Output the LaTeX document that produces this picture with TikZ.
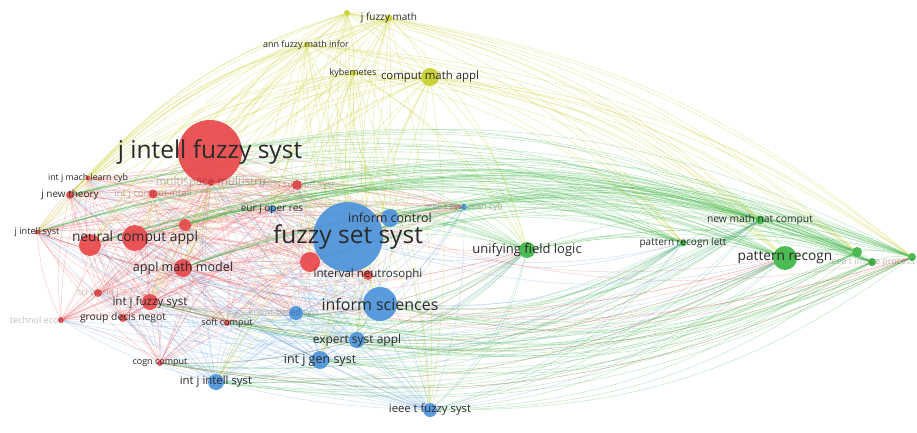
\documentclass[tikz,border=0pt]{standalone}
\usepackage{fontspec}
\setmainfont{Open Sans}
\usetikzlibrary{backgrounds}
\definecolor{clusterRed}{HTML}{E8474A}
\definecolor{clusterBlue}{HTML}{4C93DA}
\definecolor{clusterGreen}{HTML}{3DB544}
\definecolor{clusterYellow}{HTML}{C9CF2C}
\definecolor{labelGray}{HTML}{2A2A2A}
%% The journals of each cluster.
\newcommand{\redJournals}{jifs,msms,nca,ncaB,amm,ijfs,sciw,tedec,gdn,softc,cognc,jnt,jis,ijmlc,ijcis,redC,decis,neutA,neut}
\newcommand{\blueJournals}{fss,infc,smc,ejor,isci,kbs,esa,ijgs,ijis,tfs}
\newcommand{\yellowJournals}{yelA,jfm,afmi,kyb,cma}
\newcommand{\greenJournals}{ufl,prl,nmnc,pr,tipA,tip,tipC}
\newcommand{\clusterLinks}[3]{%%
  %% Every pair of journals inside one cluster.
  \foreach \a [count=\i] in #1 {
    \foreach \b [count=\j] in #1 {
      \ifnum\j>\i\relax
        \draw[#2] (\a) to[bend left=#3] (\b);
      \fi
    }
  }
}
\newcommand{\crossLinks}[4]{%%
  %% Every journal of one list to every journal of another.
  \foreach \a in #1 {
    \foreach \b in #2 {
      \draw[#3] (\a) to[#4] (\b);
    }
  }
}
%% Lists used only for the long links.
\newcommand{\redToBlue}{fss,infc,ejor,kbs,smc}
\newcommand{\blueToRed}{isci,esa,ijgs,ijis,tfs}
\newcommand{\yellowLeft}{jifs,nca,ncaB,amm,jnt,jis,ijmlc,ijfs,fss,infc,ejor,isci,neutA}
\newcommand{\yellowRight}{ufl,prl,nmnc,pr,tipA,tipC}
\newcommand{\yellowDown}{ijgs,esa,tfs,ijis}
\newcommand{\greenUp}{jifs,nca,ncaB,amm,jnt,jis,redC,fss,infc,ejor,smc,neutA,decis}
\newcommand{\greenDown}{isci,esa,ijgs,ijis,tfs,softc,cognc,ijfs,kbs}
\newcommand{\blueRight}{tfs,ijgs,isci,esa,fss}
\newcommand{\greenLeft}{ufl,pr,nmnc,prl}
\newcommand{\redRight}{jifs,nca,amm,ijfs,jis,cognc}
\newcommand{\greenFar}{ufl,pr,tipC}

\begin{document}
\begin{tikzpicture}[x=1pt,y=-1pt,
  journalNode/.style={circle,inner sep=0pt,draw=none,fill opacity=0.92},
  edgeRed/.style={draw=clusterRed,line width=0.55pt,draw opacity=0.25},
  edgeBlue/.style={draw=clusterBlue,line width=0.55pt,draw opacity=0.25},
  edgeGreen/.style={draw=clusterGreen,line width=0.55pt,draw opacity=0.3},
  edgeYellow/.style={draw=clusterYellow,line width=0.55pt,draw opacity=0.35},
  labelStyle/.style={text=labelGray,inner sep=0pt},
  faintLabel/.style={text=black,text opacity=0.25,inner sep=0pt}
]
\useasboundingbox (0,0) rectangle (917,433);
\clip (0,0) rectangle (917,433);
%%
%% The journals, as circles.
\foreach \nm/\px/\py/\d/\col in {
  msms/211/183/6/clusterRed, jifs/210/152/64/clusterRed,
  nca/135/238/26/clusterRed, ncaB/90/245/22/clusterRed,
  amm/183/268/18/clusterRed, ijfs/150/302/16/clusterRed,
  sciw/98/293/8/clusterRed, tedec/61/320/6/clusterRed,
  gdn/123/318/8/clusterRed, softc/227/323/6/clusterRed,
  cognc/160/363/6/clusterRed, jnt/70/195/8/clusterRed,
  jis/37/232/5/clusterRed, ijmlc/88/178/5/clusterRed,
  ijcis/153/194/9/clusterRed, redC/185/225/12/clusterRed,
  decis/297/185/10/clusterRed, neutA/310/262/20/clusterRed,
  fss/348/237/70/clusterBlue, infc/390/218/18/clusterBlue,
  smc/464/207/6/clusterBlue, ejor/272/209/8/clusterBlue,
  isci/380/304/34/clusterBlue, kbs/296/313/14/clusterBlue,
  esa/357/340/16/clusterBlue, ijgs/320/360/18/clusterBlue,
  ijis/216/382/16/clusterBlue, tfs/430/410/14/clusterBlue,
  neut/368/275/10/clusterRed,
  yelA/347/13/6/clusterYellow, jfm/389/18/7/clusterYellow,
  afmi/306/45/5/clusterYellow, kyb/353/73/6/clusterYellow,
  cma/430/77/18/clusterYellow,
  ufl/527/250/16/clusterGreen, prl/683/243/7/clusterGreen,
  nmnc/760/220/9/clusterGreen, pr/785/258/24/clusterGreen,
  tipA/857/252/10/clusterGreen, tip/872/262/8/clusterGreen,
  tipC/912/257/8/clusterGreen}
  \node[journalNode,fill=\col,minimum size=\d pt] (\nm) at (\px,\py) {};
%%
%% The links, behind the circles.
\begin{scope}[on background layer]
\clusterLinks{\redJournals}{edgeRed}{10}
\clusterLinks{\blueJournals}{edgeBlue}{10}
\clusterLinks{\yellowJournals}{edgeYellow}{10}
\clusterLinks{\greenJournals}{edgeGreen}{12}
\crossLinks{\redJournals}{\redToBlue}{edgeRed}{bend left=8}
\crossLinks{\blueToRed}{\redJournals}{edgeBlue}{bend left=8}
\crossLinks{\yellowJournals}{\yellowLeft}{edgeYellow}{bend right=15}
\crossLinks{\yellowJournals}{\yellowRight}{edgeYellow}{bend left=15}
\crossLinks{\yellowJournals}{\yellowDown}{edgeYellow}{bend left=8}
\crossLinks{\greenJournals}{\greenUp}{edgeGreen}{bend right=18}
\crossLinks{\greenJournals}{\greenDown}{edgeGreen}{bend left=18}
\crossLinks{\blueRight}{\greenLeft}{edgeBlue}{bend right=15}
\crossLinks{\redRight}{\greenFar}{edgeRed}{bend right=18}
\end{scope}
%%
%% Labels that are shown faded.
\foreach \nm/\sz/\txt in {
  msms/11.5/multispace multistru, ijcis/9.5/int j comput intell,
  decis/9/decis support syst, sciw/9/sci world j,
  smc/8.8/ieee t syst man cyb, tip/9/ieee t image process}
  \node[faintLabel,font=\fontsize{\sz}{\sz}\selectfont] (\nm-lab) at (\nm) {\txt};
\node[faintLabel,font=\fontsize{8.8}{8.8}\selectfont] (kbs-lab) at ([xshift=-12pt]kbs) {knowl-based syst};
\node[faintLabel,font=\fontsize{9}{9}\selectfont,anchor=east] (tedec-lab) at (tedec.east) {technol econ};
%%
%% Labels of the journals.
\foreach \nm/\sz/\txt in {
  jifs/24.5/j intell fuzzy syst, fss/24.5/fuzzy set syst,
  isci/16/inform sciences, nca/13.8/neural comput appl,
  pr/13.7/pattern recogn, ufl/13/unifying field logic,
  amm/12.6/appl math model, infc/12.5/inform control,
  cma/11.4/comput math appl, ijgs/12.5/int j gen syst,
  esa/12/expert syst appl, ijis/11.4/int j intell syst,
  tfs/11.3/ieee t fuzzy syst, ijfs/11.6/int j fuzzy syst,
  neut/11.5/interval neutrosophi, gdn/10.3/group decis negot,
  ejor/10/eur j oper res, softc/9.1/soft comput,
  nmnc/10.3/new math nat comput, prl/10/pattern recogn lett,
  jfm/10/j fuzzy math, afmi/8.9/ann fuzzy math infor,
  kyb/9/kybernetes, jnt/10/j new theory,
  ijmlc/8.8/int j mach learn cyb, jis/9.2/j intell syst,
  cognc/9/cogn comput}
  \node[labelStyle,font=\fontsize{\sz}{\sz}\selectfont] (\nm-lab) at (\nm) {\txt};
\end{tikzpicture}
\end{document}
